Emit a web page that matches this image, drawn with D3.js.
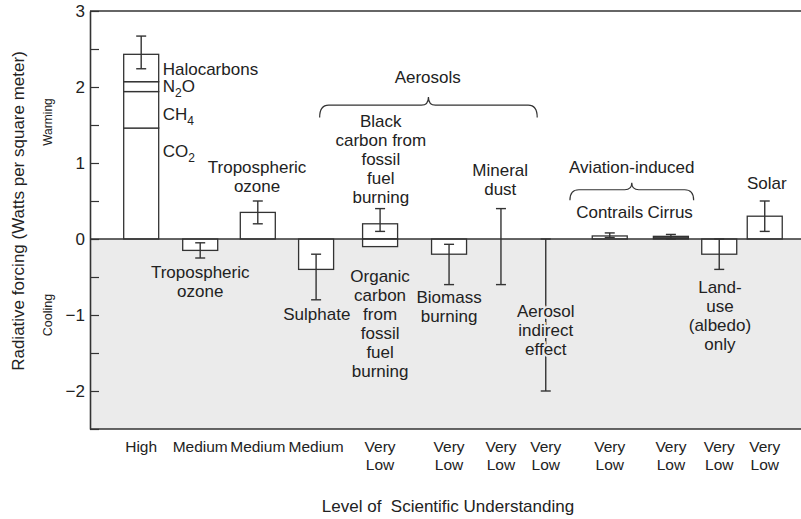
<!DOCTYPE html>
<html>
<head>
<meta charset="utf-8">
<script src="https://cdn.jsdelivr.net/npm/d3@7"></script>
<style>
  body { margin: 0; background: #fff; }
  text { font-family: "Liberation Sans", Arial, Helvetica, sans-serif; fill: #222; }
</style>
</head>
<body>
<svg id="chart" width="801" height="519"></svg>
<script>
// forcing agents, one per bar / error bar (GHG bar is stacked separately)
const agents = ["Greenhouse gases", "Stratospheric ozone", "Tropospheric ozone", "Sulphate",
  "Black carbon", "Organic carbon", "Biomass burning", "Mineral dust", "Aerosol indirect",
  "Contrails", "Cirrus", "Land-use", "Solar"];
const agentSlot = [7.2, 15.5, 23.6, 31.8, 40.8, 40.8, 50.5, 57.8, 64.1, 73.1, 81.7, 88.5, 94.9];
const agentValue = [null, -0.15, 0.35, -0.4, 0.2, -0.1, -0.2, null, null, 0.04, 0.035, -0.2, 0.3];
const errLow = [2.24, -0.25, 0.2, -0.8, 0.1, null, -0.6, -0.6, -2.0, 0.02, 0.0, -0.4, 0.1];
const errHigh = [2.67, -0.05, 0.5, -0.2, 0.4, null, -0.07, 0.4, 0.0, 0.08, 0.06, 0.0, 0.5];
const agentLevel = ["High", "Medium", "Medium", "Medium", "Very Low", null, "Very Low", "Very Low",
  "Very Low", "Very Low", "Very Low", "Very Low", "Very Low"];
const filledAgents = ["Cirrus"];

// well-mixed greenhouse gases stacked in the first bar
const ghgNames = ["CO_2", "CH_4", "N_2O", "Halocarbons"];
const ghgValues = [1.46, 0.48, 0.13, 0.36];
const ghgLabelAt = [1.08, 1.57, 1.93, 2.16];

const yTickValues = d3.range(-2.5, 3.01, 0.5);

// text annotations (x in slot units, y in W/m2)
const notes = [
  { lines: ["Tropospheric", "ozone"], x: 23.5, y: 0.87 },
  { lines: ["Tropospheric", "ozone"], x: 15.5, y: -0.51 },
  { lines: ["Aerosols"], x: 47.5, y: 2.05 },
  { lines: ["Black", "carbon from", "fossil", "fuel", "burning"], x: 40.9, y: 1.47 },
  { lines: ["Mineral", "dust"], x: 57.7, y: 0.83 },
  { lines: ["Sulphate"], x: 31.9, y: -1.07 },
  { lines: ["Organic", "carbon", "from", "fossil", "fuel", "burning"], x: 40.8, y: -0.57 },
  { lines: ["Biomass", "burning"], x: 50.5, y: -0.84 },
  { lines: ["Aerosol", "indirect", "effect"], x: 64.1, y: -1.03, halo: true },
  { lines: ["Aviation-induced"], x: 76.2, y: 0.87 },
  { lines: ["Contrails"], x: 73.1, y: 0.28 },
  { lines: ["Cirrus"], x: 81.6, y: 0.28 },
  { lines: ["Land-", "use", "(albedo)", "only"], x: 88.6, y: -0.71 },
  { lines: ["Solar"], x: 95.2, y: 0.66 }
];
// curly braces grouping agents: [x from, x to, y of tip, y of ends]
const braces = [[32.3, 62.9, 1.87, 1.60], [67.5, 84.9, 0.74, 0.51]];

const ink = "#333";
const barW = 35;
const svg = d3.select("#chart");
const x = d3.scaleLinear().domain([0, 100]).range([90, 801]);
const y = d3.scaleLinear().domain([-2.5, 3]).range([429, 11]);

// cooling background
svg.append("rect")
  .attr("x", x(0)).attr("width", x(100) - x(0))
  .attr("y", y(0)).attr("height", y(-2.5) - y(0))
  .attr("fill", "#ebebeb");

// stacked greenhouse gas bar
const ghgTops = d3.cumsum(ghgValues);
ghgValues.forEach((v, i) => {
  const top = ghgTops[i], bottom = top - v;
  svg.append("rect")
    .attr("x", x(agentSlot[0]) - barW / 2).attr("width", barW)
    .attr("y", y(top)).attr("height", y(bottom) - y(top))
    .attr("fill", "#fff").attr("stroke", ink).attr("stroke-width", 1.3);
});

// other bars
agentValue.forEach((v, i) => {
  if (v === null) return;
  const filled = filledAgents.includes(agents[i]);
  svg.append("rect")
    .attr("x", x(agentSlot[i]) - barW / 2).attr("width", barW)
    .attr("y", y(Math.max(v, 0))).attr("height", Math.abs(y(v) - y(0)))
    .attr("fill", filled ? "#444" : "#fff")
    .attr("stroke", ink).attr("stroke-width", 1.3);
});

// zero line and frame
[0, 3, -2.5].forEach(v => {
  svg.append("line")
    .attr("x1", x(0)).attr("x2", x(100)).attr("y1", y(v)).attr("y2", y(v))
    .attr("stroke", ink).attr("stroke-width", v === 0 ? 1.3 : 1.6);
});

// error bars
errLow.forEach((lo, i) => {
  if (lo === null) return;
  const cx = x(agentSlot[i]);
  const g = svg.append("g").attr("stroke", ink).attr("stroke-width", 1.4);
  g.append("line").attr("x1", cx).attr("x2", cx).attr("y1", y(lo)).attr("y2", y(errHigh[i]));
  [lo, errHigh[i]].forEach(v => {
    g.append("line").attr("x1", cx - 5).attr("x2", cx + 5).attr("y1", y(v)).attr("y2", y(v));
  });
});

// y axis with inward ticks
const yAxis = d3.axisLeft(y)
  .tickValues(yTickValues)
  .tickSizeInner(-9).tickSizeOuter(0).tickPadding(5)
  .tickFormat(d => Number.isInteger(d) ? d3.format("d")(d) : "");
const ya = svg.append("g").attr("transform", `translate(${x(0)},0)`).call(yAxis);
ya.select(".domain").attr("stroke", ink).attr("stroke-width", 1.6);
ya.selectAll(".tick line").attr("stroke", ink).attr("stroke-width", 1.2);
ya.selectAll(".tick text").attr("font-size", 17).attr("fill", "#222")
  .attr("font-family", "Liberation Sans, Arial, sans-serif");

// helper: text with _n subscripts
function richText(sel, str) {
  const parts = str.split(/_(\d)/);
  parts.forEach((p, k) => {
    if (!p) return;
    const t = sel.append("tspan").text(p);
    if (k % 2 === 1) t.attr("font-size", 12).attr("dy", 5);
    else if (k > 0) t.attr("dy", -5);
  });
}

// greenhouse gas labels
ghgNames.forEach((n, i) => {
  const t = svg.append("text")
    .attr("x", x(agentSlot[0]) + barW / 2 + 4).attr("y", y(ghgLabelAt[i]))
    .attr("font-size", 17);
  richText(t, n);
});

// annotations
notes.forEach(n => {
  const t = svg.append("text")
    .attr("x", x(n.x)).attr("y", y(n.y))
    .attr("text-anchor", "middle").attr("font-size", 17);
  if (n.halo) t.attr("stroke", "#ebebeb").attr("stroke-width", 4).attr("paint-order", "stroke");
  n.lines.forEach((l, k) => {
    t.append("tspan").attr("x", x(n.x)).attr("dy", k === 0 ? 0 : 19).text(l);
  });
});

// braces
braces.forEach(([a, b, tip, end]) => {
  const x1 = x(a), x2 = x(b), xc = (x1 + x2) / 2;
  const yt = y(tip), yb = y(end), yh = yt + (yb - yt) * 0.4;
  const p = d3.path();
  p.moveTo(x1, yb);
  p.quadraticCurveTo(x1, yh, x1 + 9, yh);
  p.lineTo(xc - 7, yh);
  p.quadraticCurveTo(xc, yh, xc, yt);
  p.quadraticCurveTo(xc, yh, xc + 7, yh);
  p.lineTo(x2 - 9, yh);
  p.quadraticCurveTo(x2, yh, x2, yb);
  svg.append("path").attr("d", p.toString())
    .attr("fill", "none").attr("stroke", ink).attr("stroke-width", 1.2);
});

// level of scientific understanding
agentLevel.forEach((lvl, i) => {
  if (lvl === null) return;
  const t = svg.append("text")
    .attr("x", x(agentSlot[i])).attr("y", y(-2.5) + 23)
    .attr("text-anchor", "middle").attr("font-size", 15.5);
  lvl.split(" ").forEach((w, k) => {
    t.append("tspan").attr("x", x(agentSlot[i])).attr("dy", k === 0 ? 0 : 17.5).text(w);
  });
});

// axis titles
svg.append("text")
  .attr("x", 448).attr("y", 512)
  .attr("text-anchor", "middle").attr("font-size", 17)
  .attr("xml:space", "preserve")
  .text("Level of  Scientific Understanding");

svg.append("text")
  .attr("transform", "translate(24,211) rotate(-90)")
  .attr("text-anchor", "middle").attr("font-size", 17)
  .text("Radiative forcing (Watts per square meter)");

svg.append("text")
  .attr("transform", "translate(52,122) rotate(-90)")
  .attr("text-anchor", "middle").attr("font-size", 12)
  .text("Warming");

svg.append("text")
  .attr("transform", "translate(52,315) rotate(-90)")
  .attr("text-anchor", "middle").attr("font-size", 12.5)
  .text("Cooling");
</script>
</body>
</html>
